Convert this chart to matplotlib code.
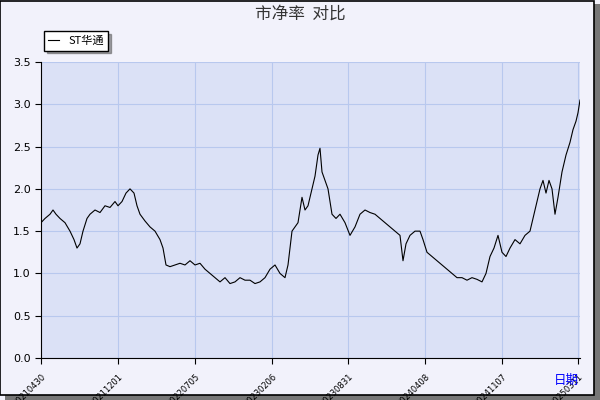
import matplotlib
matplotlib.use("Agg")
import matplotlib.pyplot as plt
from matplotlib.patches import Rectangle

plt.rcParams['font.family'] = ['Noto Sans CJK SC', 'DejaVu Sans']

# day index along the axis and price-to-book values
t = [0, 4, 9, 12, 15, 19, 24, 29, 33, 36, 39, 42, 46, 49, 54, 59, 64, 69, 74, 77,
     81, 85, 89, 93, 96, 99, 104, 109, 114, 119, 122, 125, 129, 134, 139, 144, 149, 154,
     159, 164, 169, 174, 179, 184, 189, 194, 199, 204, 209, 214, 219, 224, 229, 234, 239,
     244, 247, 251, 254, 257, 261, 264, 267, 271, 274, 277, 279, 281, 284, 287, 291, 295,
     299, 304, 309, 314, 319, 324, 329, 334, 339, 344, 349, 354, 359, 362, 365, 369, 374,
     379, 382, 386, 391, 396, 401, 406, 411, 416, 421, 426, 431, 436, 441, 445, 449, 453,
     457, 461, 465, 469, 474, 479, 484, 489, 494, 499, 502, 505, 508, 511, 514, 517, 521,
     525, 529, 532, 535, 537, 539]
pb = [1.6, 1.65, 1.7, 1.75, 1.7, 1.65, 1.6, 1.5, 1.4, 1.3, 1.35, 1.5, 1.65, 1.7, 1.75,
      1.72, 1.8, 1.78, 1.85, 1.8, 1.85, 1.95, 2.0, 1.95, 1.8, 1.7, 1.62, 1.55, 1.5, 1.4,
      1.3, 1.1, 1.08, 1.1, 1.12, 1.1, 1.15, 1.1, 1.12, 1.05, 1.0, 0.95, 0.9, 0.95, 0.88,
      0.9, 0.95, 0.92, 0.92, 0.88, 0.9, 0.95, 1.05, 1.1, 1.0, 0.95, 1.1, 1.5, 1.55, 1.6,
      1.9, 1.75, 1.8, 2.0, 2.15, 2.4, 2.48, 2.2, 2.1, 2.0, 1.7, 1.65, 1.7, 1.6, 1.45,
      1.55, 1.7, 1.75, 1.72, 1.7, 1.65, 1.6, 1.55, 1.5, 1.45, 1.15, 1.35, 1.45, 1.5,
      1.5, 1.4, 1.25, 1.2, 1.15, 1.1, 1.05, 1.0, 0.95, 0.95, 0.92, 0.95, 0.93, 0.9, 1.0,
      1.2, 1.3, 1.45, 1.25, 1.2, 1.3, 1.4, 1.35, 1.45, 1.5, 1.75, 2.0, 2.1, 1.95, 2.1,
      2.0, 1.7, 1.9, 2.2, 2.4, 2.55, 2.7, 2.8, 2.9, 3.05]
tick_pos = [0, 77, 154, 231, 307, 384, 461, 537]
tick_labels = ["20210430", "20211201", "20220705", "20230206", "20230831",
               "20240408", "20241107", "20250311"]

fig = plt.figure(figsize=(6, 4), dpi=100)
fig.patch.set_facecolor("#f2f2fb")
# shadowed frame
fig.patches.append(Rectangle((0.008, 0.0), 0.992, 0.99, transform=fig.transFigure,
                             facecolor="#777777", edgecolor="none", zorder=-2))
fig.patches.append(Rectangle((0.0, 0.012), 0.99, 0.986, transform=fig.transFigure,
                             facecolor="#f2f2fb", edgecolor="black", lw=1.2, zorder=-1))

ax = fig.add_axes([41 / 600, 42 / 400, 539 / 600, 296 / 400])
ax.set_facecolor("#dbe1f6")
ax.plot(t, pb, color="black", lw=0.8, label="ST华通")
ax.set_xlim(0, 539)
ax.set_ylim(0, 3.5)
ax.set_yticks([i * 0.5 for i in range(8)])
ax.set_yticklabels([f"{i * 0.5:.1f}" for i in range(8)], fontsize=8, family="DejaVu Sans")
ax.set_xticks(tick_pos)
ax.set_xticklabels(tick_labels, rotation=45, ha="right", va="top", rotation_mode="anchor",
                   fontsize=6, family="DejaVu Sans")
ax.grid(True, color="#b8c8ee", lw=0.8)
for s in ["top", "right"]:
    ax.spines[s].set_visible(False)
ax.tick_params(length=4)
ax.tick_params(axis="x", pad=6)

fig.text(0.5, 0.965, "市净率  对比", ha="center", va="center", fontsize=12, color="#333333")
fig.text(0.965, 0.05, "日期", ha="right", va="center", fontsize=9, color="blue")
leg = ax.legend(loc="lower left", bbox_to_anchor=(-0.005, 1.02), fontsize=8,
                frameon=True, fancybox=False, shadow=True, handlelength=1,
                borderpad=0.4)
leg.get_frame().set_edgecolor("black")

fig.savefig("out.png", dpi=100, facecolor=fig.get_facecolor())
